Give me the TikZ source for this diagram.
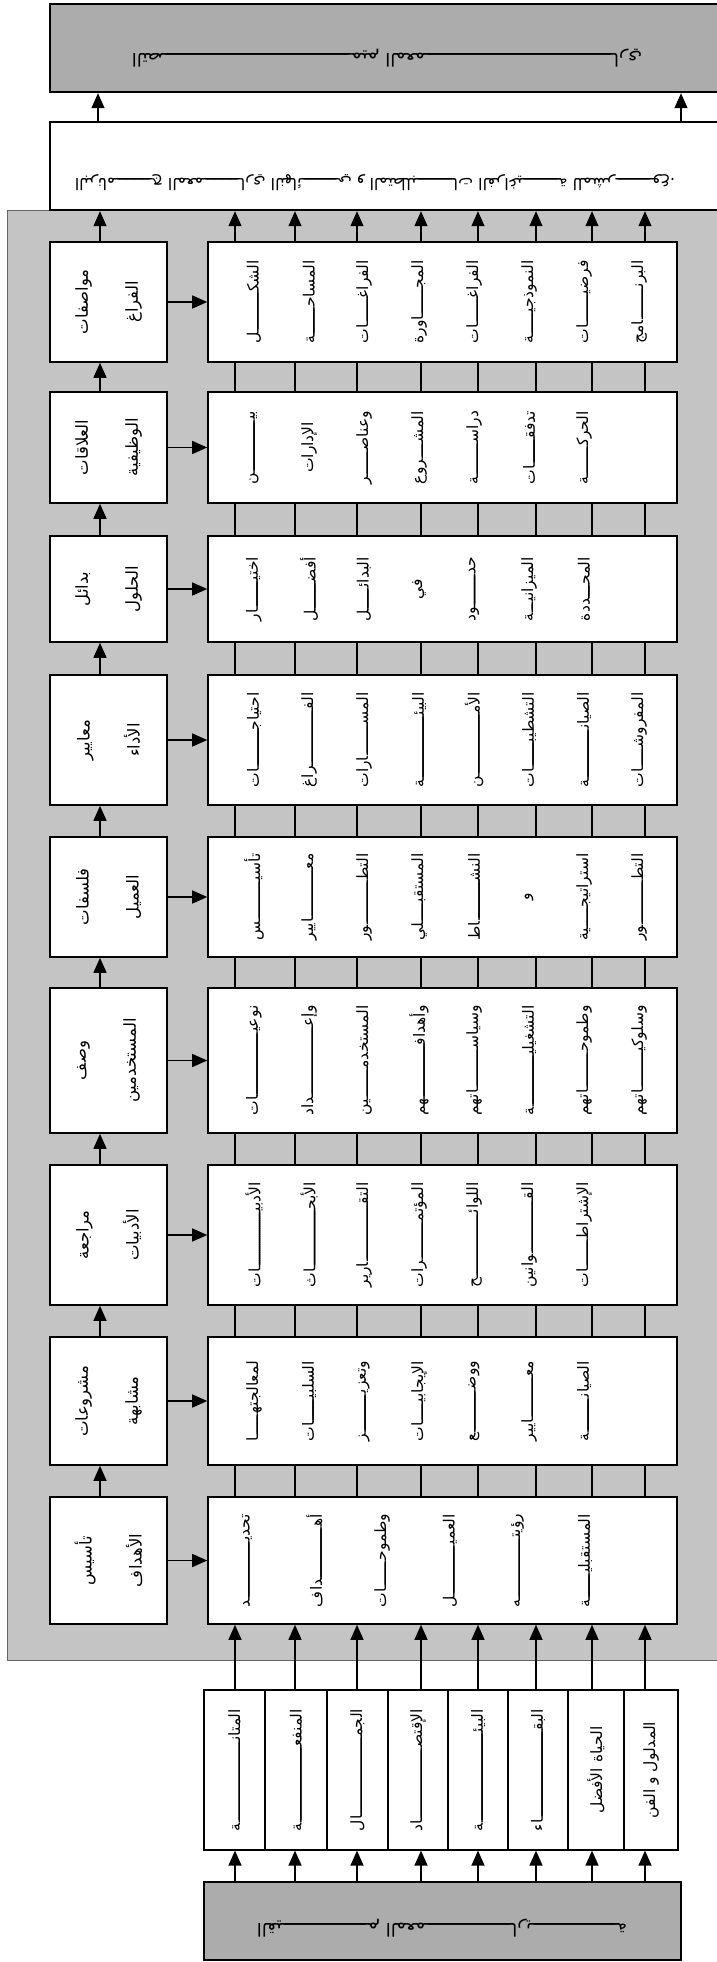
\documentclass[tikz,border=0pt]{standalone}
\usepackage{fontspec}
\usetikzlibrary{arrows.meta}
\newfontfamily\arabicfont[Script=Arabic]{DejaVu Sans}
\TeXXeTstate=1
\definecolor{regionfill}{RGB}{196,196,196}
\definecolor{darkfill}{RGB}{172,172,172}
\newcommand{\AR}[1]{\beginR #1\endR}
\newcommand{\ZJ}{^^^^200d}
\newcommand{\kfill}{\leaders\hbox to 2pt{\hss ـ\hss}\hfill}
\newcommand{\K}{\ZJ\kfill\ZJ}
\newcommand{\KW}[2]{\hbox to #1{\hfil\beginR #2\endR\hfil}}
\begin{document}
\begin{tikzpicture}[x=1pt,y=-1pt,
  box/.style={draw, line width=1.6pt, fill=white, inner sep=0pt},
  arr/.style={line width=1.3pt, -{Triangle[width=13pt,length=15pt]}},
  conn/.style={line width=1.3pt},
  word/.style={rotate=90, inner sep=0pt, font=\arabicfont\fontsize{15.5}{18}\selectfont},
  labtext/.style={rotate=90, inner sep=0pt, align=center, font=\arabicfont\fontsize{16.5}{50}\selectfont},
  bigtext/.style={rotate=180, inner sep=0pt}
]
\useasboundingbox (0,0) rectangle (717,1962);
% background region and outer boxes
\node[fill=regionfill, draw=black!60, line width=0.8pt, inner sep=0pt, minimum width=715pt, minimum height=1450pt] (region) at (364.5,935) {};
\node[draw, line width=2.4pt, fill=darkfill, inner sep=0pt, minimum width=674pt, minimum height=88pt] (topbox) at (387,48) {};
\node[draw, line width=2.4pt, fill=white, inner sep=0pt, minimum width=674pt, minimum height=88pt] (whitebox) at (387,166) {};
\node[draw, line width=2.4pt, fill=darkfill, inner sep=0pt, minimum width=477pt, minimum height=78pt] (botbox) at (442.5,1921) {};
\node[bigtext, font=\arabicfont\fontsize{18}{20}\selectfont] (toptext) at (387,58) {\hbox to 510pt{\hfil\beginR التص\K ميم المعم\K اري\endR\hfil}};
\node[bigtext, font=\arabicfont\fontsize{16}{20}\selectfont] (whitetext) at (375,183) {\hbox to 600pt{\hfil\beginR البرنام\K ج المعم\K اري النهائ\K ي و المتطلب\K ات الفراغي\K ة للمشر\K وع.\endR\hfil}};
\node[bigtext, font=\arabicfont\fontsize{18}{20}\selectfont] (bottext) at (442,1928) {\hbox to 370pt{\hfil\beginR القي\K م المعم\K اري\K ة\endR\hfil}};
% x positions
\coordinate (TA1) at (98,0);
\coordinate (TA2) at (681,0);
\coordinate (LX) at (100,0);
\foreach \x [count=\i] in {235,295,357,421,478,536,592,645} \coordinate (X\i) at (\x,0);
% rows
\foreach \r/\cy/\h in {1/302/120, 2/447.5/111, 3/589/106, 4/740/130, 5/897/120, 6/1060.5/145, 7/1235/140, 8/1401/128, 9/1560.5/127}{
  \node[box, minimum width=117pt, minimum height=\h pt] (lab\r) at (108.5,\cy) {};
  \node[box, minimum width=469pt, minimum height=\h pt] (con\r) at (442.5,\cy) {};
}
\node[labtext] (lt1) at (lab1.center) {\AR{مواصفات}\\\AR{الفراغ}};
\node[labtext] (lt2) at (lab2.center) {\AR{العلاقات}\\\AR{الوظيفية}};
\node[labtext] (lt3) at (lab3.center) {\AR{بدائل}\\\AR{الحلول}};
\node[labtext] (lt4) at (lab4.center) {\AR{معايير}\\\AR{الأداء}};
\node[labtext] (lt5) at (lab5.center) {\AR{فلسفات}\\\AR{العميل}};
\node[labtext] (lt6) at (lab6.center) {\AR{وصف}\\\AR{المستخدمين}};
\node[labtext] (lt7) at (lab7.center) {\AR{مراجعة}\\\AR{الأدبيات}};
\node[labtext] (lt8) at (lab8.center) {\AR{مشروعات}\\\AR{مشابهة}};
\node[labtext] (lt9) at (lab9.center) {\AR{تأسيس}\\\AR{الأهداف}};
% row contents
\foreach \w [count=\c] in {الشك\K ل,المساح\K ة,الفراغ\K ات,المج\K اورة,الفراغ\K ات,النموذجي\K ة,فرضي\K ات,البرن\K امج}
  \node[word] (r1w\c) at ({254+55*(\c-1)},302) {\KW{83pt}{\w}};
\foreach \w [count=\c] in {بي\K ن,الإدارات,وعناص\K ر,المش\K روع,دراس\K ة,تدفق\K ات,الحرك\K ة}
  \node[word] (r2w\c) at ({254+55*(\c-1)},447.5) {\KW{73pt}{\w}};
\foreach \w [count=\c] in {اختي\K ار,أفض\K ل,البدائ\K ل,في,حد\K ود,الميزاني\K ة,المح\K ددة}
  \node[word] (r3w\c) at ({254+55*(\c-1)},589) {\KW{64pt}{\w}};
\foreach \w [count=\c] in {احتياج\K ات,الف\K راغ,المس\K ارات,البيئ\K ة,الأم\K ن,التشطيب\K ات,الصيان\K ة,المفروش\K ات}
  \node[word] (r4w\c) at ({254+55*(\c-1)},740) {\KW{95pt}{\w}};
\foreach \w [count=\c] in {تأسي\K س,مع\K ايير,التط\K ور,المستقب\K لي,النش\K اط,و,استراتيج\K ية,التط\K ور}
  \node[word] (r5w\c) at ({254+55*(\c-1)},897) {\KW{87pt}{\w}};
\foreach \w [count=\c] in {نوعي\K ات,وإع\K داد,المستخدم\K ين,وأهداف\K هم,وسياس\K اتهم,التشغيلي\K ة,وطموح\K اتهم,وسلوكي\K اتهم}
  \node[word] (r6w\c) at ({254+55*(\c-1)},1060.5) {\KW{110pt}{\w}};
\foreach \w [count=\c] in {الأدبي\K ات,الأبح\K اث,التق\K ارير,المؤتم\K رات,اللوائ\K ح,الق\K وانين,الإشتراط\K ات}
  \node[word] (r7w\c) at ({254+55*(\c-1)},1235) {\KW{105pt}{\w}};
\foreach \w [count=\c] in {لمعالجته\K ا,السلبي\K ات,وتعزي\K ز,الإيجابي\K ات,ووض\K ع,مع\K ايير,الصيان\K ة}
  \node[word] (r8w\c) at ({254+55*(\c-1)},1401) {\KW{80pt}{\w}};
\foreach \w [count=\c] in {تحدي\K د,أه\K داف,وطموح\K ات,العمي\K ل,رؤيت\K ه,المستقبلي\K ة}
  \node[word] (r9w\c) at ({247+67.6*(\c-1)},1560.5) {\KW{93pt}{\w}};
% connectors in region
\draw[arr] (whitebox.north -| TA1) -- (topbox.south -| TA1);
\draw[arr] (whitebox.north -| TA2) -- (topbox.south -| TA2);
\draw[arr] (lab1.north -| LX) -- (whitebox.south -| LX);
\foreach \i in {1,...,8} \draw[arr] (con1.north -| X\i) -- (whitebox.south -| X\i);
\foreach \r in {1,...,8}{
  \pgfmathtruncatemacro\n{\r+1}
  \draw[arr] (lab\n.north -| LX) -- (lab\r.south -| LX);
  \foreach \i in {1,...,8} \draw[conn] (con\n.north -| X\i) -- (con\r.south -| X\i);
}
\foreach \r in {1,...,9} \draw[arr] (lab\r.east) -- (con\r.west);
% list of values
\foreach \a/\b [count=\i] in {204/265,265/327,327/388,388/448,448/508,508/568,568/624,624/678}
  \node[box, line width=1.2pt, minimum width={(\b-\a)*1pt}, minimum height=160pt] (cell\i) at ({(\a+\b)/2},1770) {};
\foreach \w [count=\i] in {المتان\K ة,المنفع\K ة,الجم\K ال,الإقتص\K اد,البيئ\K ة,البق\K اء}
  \node[word] (lw\i) at (cell\i.center) {\KW{122pt}{\w}};
\node[word] (lw7) at (cell7.center) {\hbox to 122pt{\hfil\beginR الحياة الأفضل\endR\hfil}};
\node[word] (lw8) at (cell8.center) {\hbox to 122pt{\hfil\beginR المدلول و الفن\endR\hfil}};
\foreach \i in {1,...,8}{
  \draw[arr] (cell\i.north -| X\i) -- (con9.south -| X\i);
  \draw[arr] (botbox.north -| X\i) -- (cell\i.south -| X\i);
}
\end{tikzpicture}
\end{document}
